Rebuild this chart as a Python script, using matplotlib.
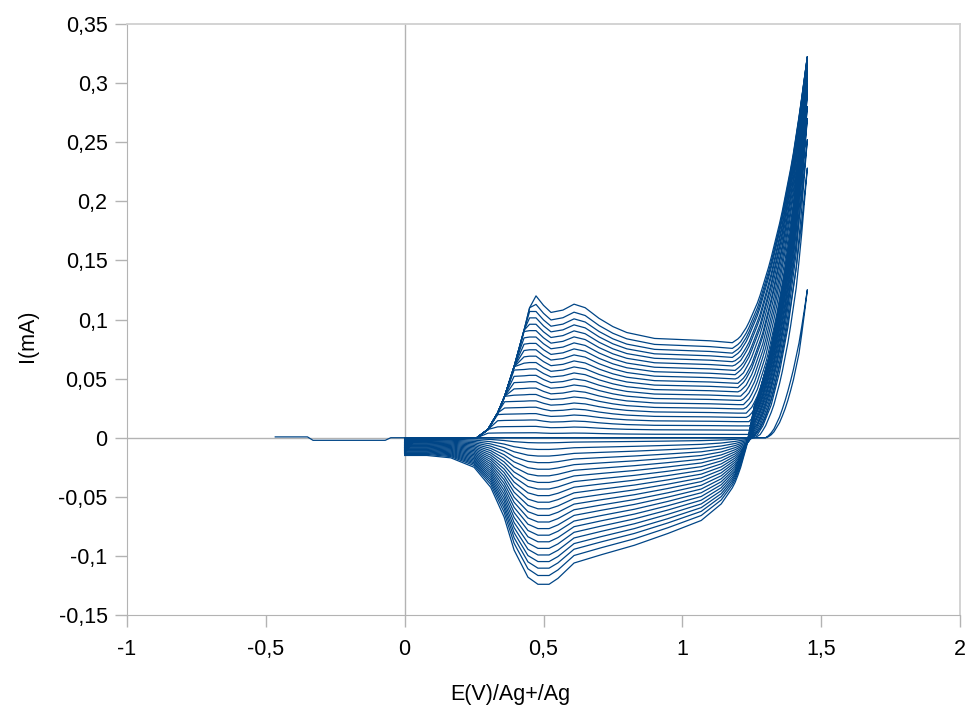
import numpy as np
import matplotlib.pyplot as plt
from matplotlib.ticker import FuncFormatter, MultipleLocator

# first sweep (before the cycling starts)
E_pre = [-0.466, -0.35, -0.33, -0.07, -0.05, 0.0]
I_pre = [0.0007, 0.0007, -0.0022, -0.0022, 0.0, 0.0]

# anodic shape of the largest cycle, without the oxidation wall
E_anod = [0.00, 0.03, 0.10, 0.20, 0.26, 0.30, 0.335, 0.36, 0.394, 0.43, 0.45, 0.473,
          0.50, 0.527, 0.57, 0.61, 0.65, 0.70, 0.75, 0.80, 0.90, 1.00, 1.10, 1.20, 1.30, 1.45]
I_anod = [-0.013, -0.004, -0.002, -0.001, 0.10, 0.11, 0.115, 0.117, 0.118, 0.119, 0.12, 0.12,
          0.112, 0.106, 0.108, 0.113, 0.110, 0.101, 0.094, 0.089, 0.084, 0.083, 0.082, 0.080, 0.080, 0.080]

# common rising edge of the anodic wave
E_edge = [0.00, 0.26, 0.30, 0.335, 0.36, 0.394, 0.43, 0.45, 0.473, 0.50, 1.45]
I_edge = [0.0, 0.0, 0.007, 0.021, 0.035, 0.060, 0.091, 0.110, 0.130, 1.0, 1.0]

# cathodic shape of the largest cycle
E_cath = [0.0, 0.08, 0.166, 0.25, 0.31, 0.358, 0.394, 0.444, 0.48, 0.52, 0.552, 0.61,
          0.708, 0.827, 0.948, 1.068, 1.14, 1.19, 1.238, 1.26, 1.45]
I_cath = [-0.015, -0.015, -0.017, -0.025, -0.042, -0.067, -0.095, -0.118, -0.124, -0.124, -0.119, -0.106,
          -0.099, -0.091, -0.081, -0.070, -0.056, -0.039, -0.016, 0.0, 0.0]

# oxidation wall above ~1.2 V, normalised (0 at onset, 1 at 1.45 V)
u_wall = [0.0, 0.1, 0.2, 0.35, 0.5, 0.65, 0.8, 0.9, 1.0]
g_fwd = [0.0, 0.02, 0.06, 0.15, 0.28, 0.44, 0.64, 0.81, 1.0]
g_rev = [0.0, 0.01, 0.04, 0.11, 0.22, 0.37, 0.57, 0.77, 1.0]
E_wall = np.arange(1.15, 1.4501, 0.01)

# per cycle: size of the redox waves, current at 1.45 V, onset of the wall
scale = [0.0, 0.035, 0.08, 0.125, 0.17, 0.215, 0.26, 0.305, 0.35, 0.395, 0.44, 0.485,
         0.53, 0.575, 0.62, 0.665, 0.71, 0.755, 0.80, 0.845, 0.89, 0.94, 1.0]
i_end = [0.125, 0.228, 0.252, 0.27, 0.28, 0.29, 0.295, 0.30, 0.305, 0.31, 0.312, 0.315,
         0.317, 0.318, 0.32, 0.32, 0.321, 0.321, 0.322, 0.322, 0.322, 0.322, 0.322]
onset = [1.30, 1.26, 1.25, 1.245, 1.24, 1.235, 1.23, 1.225, 1.22, 1.215, 1.21, 1.205,
         1.20, 1.20, 1.195, 1.19, 1.19, 1.185, 1.185, 1.18, 1.18, 1.18, 1.18]

blue = '#004586'
grey = '#b3b3b3'


def wall(E, e0, amp, g):
    u = np.clip((E - e0) / (1.45 - e0), 0, 1)
    return amp * np.interp(u, u_wall, g)


def comma(v, pos):
    return ('%g' % round(v, 3)).replace('.', ',')


plt.rcParams['font.family'] = ['Liberation Sans', 'DejaVu Sans']
fig = plt.figure(figsize=(9.67, 7.07), dpi=100)
ax = fig.add_axes([0.1313, 0.1301, 0.8615, 0.8359])

ax.axhline(0, color=grey, lw=1, zorder=1)
ax.axvline(0, color=grey, lw=1, zorder=1)

ax.plot(E_pre, I_pre, color=blue, lw=0.9, zorder=2)

E_f = np.union1d(E_anod, E_wall)
E_r = np.union1d(E_cath, E_wall)[::-1]
P = np.interp(E_f, E_anod, I_anod)
edge = np.interp(E_f, E_edge, I_edge)
C = np.interp(E_r, E_cath, I_cath)

for s, ie, e0 in zip(scale, i_end, onset):
    base = np.minimum(edge, s * P)
    fwd = base + wall(E_f, e0, ie - base[-1], g_fwd)
    rev = s * C + wall(E_r, e0, ie, g_rev)
    ax.plot(np.concatenate([E_f, E_r]), np.concatenate([fwd, rev]),
            color=blue, lw=0.9, zorder=2)

ax.set_xlim(-1, 2)
ax.set_ylim(-0.15, 0.35)
ax.xaxis.set_major_locator(MultipleLocator(0.5))
ax.yaxis.set_major_locator(MultipleLocator(0.05))
ax.xaxis.set_major_formatter(FuncFormatter(comma))
ax.yaxis.set_major_formatter(FuncFormatter(comma))
ax.tick_params(axis='both', direction='out', length=8.5, width=1, color=grey,
               labelsize=15.5, labelcolor='black')
ax.tick_params(axis='x', pad=8.5)
ax.tick_params(axis='y', pad=5.5)
for side in ['left', 'bottom']:
    ax.spines[side].set_color(grey)
for side in ['top', 'right']:
    ax.spines[side].set_color('#d0d0d0')
    ax.spines[side].set_linewidth(1.3)

fig.text(0.528, 0.018, 'E(V)/Ag+/Ag', fontsize=15.5, ha='center', va='center')
fig.text(0.028, 0.525, 'I(mA)', fontsize=15.5, ha='center', va='center', rotation=90)

fig.savefig('out.png', dpi=100)
